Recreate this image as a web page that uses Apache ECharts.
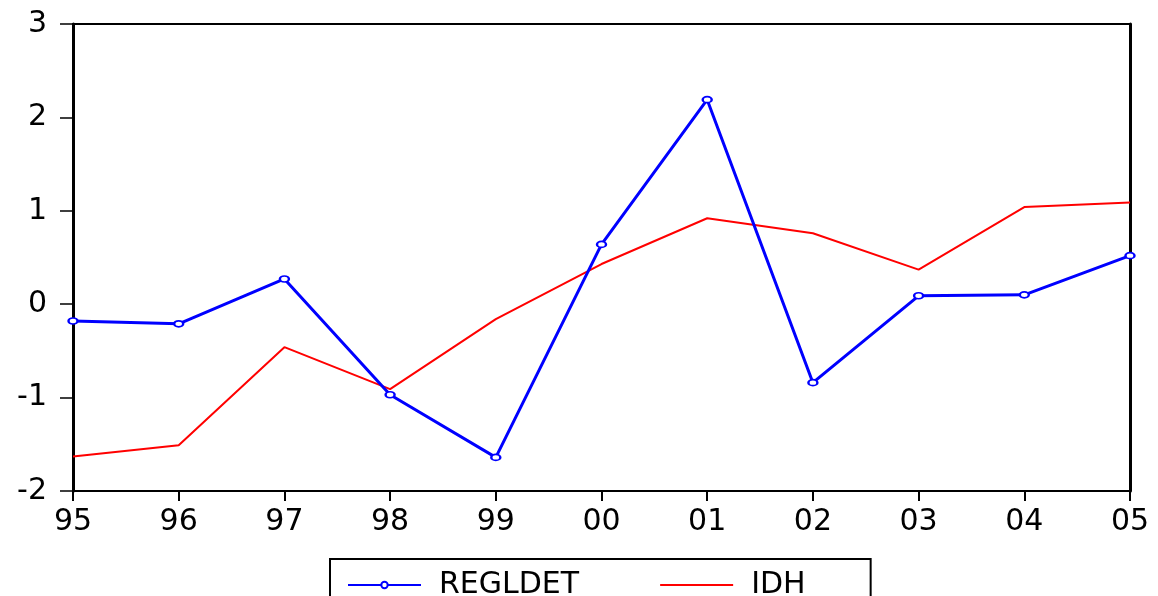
<!DOCTYPE html>
<html>
<head>
<meta charset="utf-8">
<script src="https://cdn.jsdelivr.net/npm/echarts@6/dist/echarts.min.js"></script>
<style>
html,body{margin:0;padding:0;background:#fff;}
#chart{width:1158px;height:596px;}
</style>
</head>
<body>
<div id="chart"></div>
<script>
const years = ['95','96','97','98','99','00','01','02','03','04','05'];
const regldet = [-0.18, -0.21, 0.27, -0.97, -1.64, 0.64, 2.19, -0.84, 0.09, 0.10, 0.52];
const idh = [-1.63, -1.51, -0.46, -0.91, -0.16, 0.43, 0.92, 0.76, 0.37, 1.04, 1.09];

const FONT = 'DejaVu Sans';
const chart = echarts.init(document.getElementById('chart'));
chart.setOption({
  animation: false,
  backgroundColor: '#ffffff',
  grid: {left: 73, right: 28, top: 24, bottom: 105, show: false},
  legend: {
    left: 330, top: 559,
    padding: [11, 65, 30, 17],
    borderColor: '#000', borderWidth: 2,
    itemWidth: 73, itemHeight: 8, itemGap: 80,
    textStyle: {fontFamily: FONT, fontSize: 30, color: '#000', padding: [0, 0, 0, 13]},
    data: [{name: 'REGLDET'}, {name: 'IDH', itemStyle: {opacity: 0}}]
  },
  xAxis: [{
    type: 'category', data: years, boundaryGap: false,
    axisLine: {onZero: false, lineStyle: {color: '#000', width: 2}},
    axisTick: {length: 10, lineStyle: {color: '#000', width: 2}},
    axisLabel: {fontFamily: FONT, fontSize: 30, color: '#000', margin: 16},
    splitLine: {show: false}
  }, {
    type: 'category', data: years, boundaryGap: false, position: 'top',
    axisLine: {onZero: false, lineStyle: {color: '#000', width: 2}},
    axisTick: {show: false}, axisLabel: {show: false}, splitLine: {show: false}
  }],
  yAxis: [{
    type: 'value', min: -2, max: 3, interval: 1,
    axisLine: {show: true, onZero: false, lineStyle: {color: '#000', width: 3}},
    axisTick: {show: true, length: 13, lineStyle: {color: '#000', width: 1.5}},
    axisLabel: {fontFamily: FONT, fontSize: 30, color: '#000', margin: 26},
    splitLine: {show: false}
  }, {
    type: 'value', min: -2, max: 3, interval: 1, position: 'right',
    axisLine: {show: true, onZero: false, lineStyle: {color: '#000', width: 3}},
    axisTick: {show: false}, axisLabel: {show: false}, splitLine: {show: false}
  }],
  series: [{
    name: 'REGLDET', type: 'line', data: regldet,
    symbol: 'emptyCircle', symbolSize: [9, 6], showSymbol: true,
    lineStyle: {color: '#0000ff', width: 3},
    itemStyle: {color: '#0000ff', borderWidth: 1.5},
    z: 3
  }, {
    name: 'IDH', type: 'line', data: idh,
    symbol: 'none', showSymbol: false,
    lineStyle: {color: '#ff0000', width: 2},
    itemStyle: {color: '#ff0000'},
    z: 2
  }]
});
</script>
</body>
</html>
